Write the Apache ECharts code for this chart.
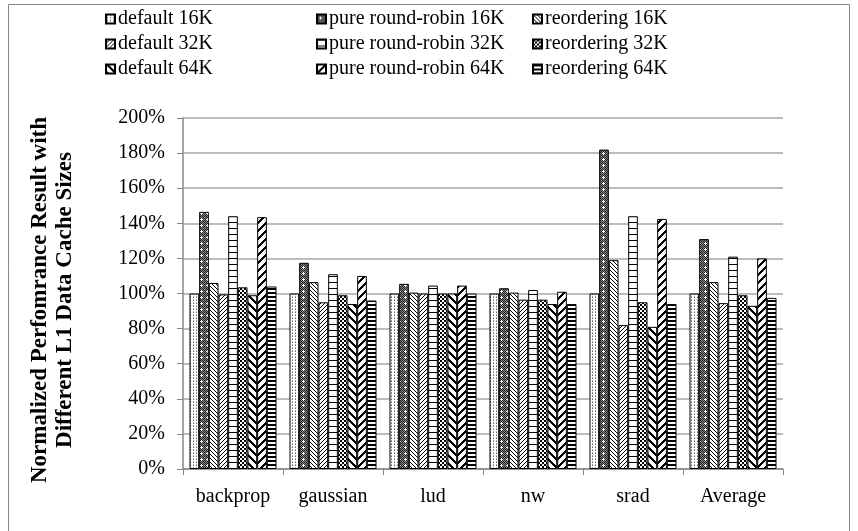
<!DOCTYPE html>
<html><head><meta charset="utf-8">
<script src="https://cdn.jsdelivr.net/npm/echarts@6/dist/echarts.min.js"></script>
<style>html,body{margin:0;padding:0;background:#fff}#c{width:858px;height:531px}</style>
</head><body><div id="c"></div>
<script>
const categories = ['backprop','gaussian','lud','nw','srad','Average'];
const seriesNames = ['default 16K','pure round-robin 16K','reordering 16K',
  'default 32K','pure round-robin 32K','reordering 32K',
  'default 64K','pure round-robin 64K','reordering 64K'];
const default16K = [100, 100, 100, 100, 100, 100];
const pureRR16K  = [146.5, 117.5, 105.5, 103, 182, 131];
const reorder16K = [106, 106.5, 100.5, 100.5, 119, 106.5];
const default32K = [99.5, 95, 100, 96.5, 82, 94.5];
const pureRR32K  = [144, 111, 104.5, 102, 144, 121];
const reorder32K = [103.5, 99, 100, 96.5, 95, 99];
const default64K = [99, 94, 100, 94, 81, 93];
const pureRR64K  = [143.5, 110, 104.5, 101, 142.5, 120];
const reorder64K = [104, 96, 100, 94, 94, 97.5];
const allValues = [default16K, pureRR16K, reorder16K, default32K, pureRR32K, reorder32K, default64K, pureRR64K, reorder64K];
const yTicks = {min: 0, max: 200, interval: 20};

function tile(w, h, draw) {
  const c = document.createElement('canvas');
  c.width = w; c.height = h;
  const g = c.getContext('2d');
  g.fillStyle = '#fff'; g.fillRect(0, 0, w, h);
  g.fillStyle = '#000';
  draw(g, w, h);
  return c;
}
const patterns = [
  tile(3, 3, g => { g.fillStyle = '#666'; g.fillRect(1, 0, 1, 1); g.fillStyle = '#aaa'; g.fillRect(1, 2, 1, 1); }),
  tile(6, 6, g => {
    for (let y = 0; y < 6; y++) for (let x = 0; x < 6; x++) {
      g.fillStyle = ((x + y) % 2 === 0) ? '#222' : '#888';
      g.fillRect(x, y, 1, 1);
    }
    g.fillStyle = '#fff';
    [[3,2],[2,3],[3,3],[4,3],[3,4]].forEach(p => g.fillRect(p[0], p[1], 1, 1));
  }),
  tile(4, 4, g => { for (let i = 0; i < 4; i++) g.fillRect(i, i, 1, 1); }),
  tile(4, 4, g => { for (let i = 0; i < 4; i++) g.fillRect(3 - i, i, 1, 1); }),
  tile(1, 6, g => { g.fillRect(0, 0, 1, 1); }),
  tile(4, 4, g => { g.fillRect(0, 0, 2, 2); g.fillRect(2, 2, 2, 2); }),
  tile(8, 8, g => { for (let y = 0; y < 8; y++) for (let k = 0; k < 3; k++) g.fillRect((y + k) % 8, y, 1, 1); }),
  tile(8, 8, g => { for (let y = 0; y < 8; y++) for (let k = 0; k < 3; k++) g.fillRect((7 - y + k + 8) % 8, y, 1, 1); }),
  tile(1, 4, g => { g.fillRect(0, 0, 1, 2); })
];

const font = 'Liberation Serif';
const series = seriesNames.map((n, i) => ({
  name: n, type: 'bar', data: allValues[i],
  barGap: '0%', barCategoryGap: '13%',
  itemStyle: { color: { image: patterns[i], repeat: 'repeat' }, borderColor: '#000', borderWidth: 1 },
  emphasis: { disabled: true }
}));

function legendCol(names, left) {
  return {
    data: names, left: left, top: 4, orient: 'vertical', itemGap: 5,
    itemWidth: 9, itemHeight: 9, icon: 'rect',
    textStyle: { fontFamily: font, fontSize: 20, color: '#000', padding: [0,0,0,-2] },
    selectedMode: false
  };
}

const chart = echarts.init(document.getElementById('c'), null, { renderer: 'canvas' });
chart.setOption({
  animation: false,
  backgroundColor: '#fff',
  legend: [
    legendCol([seriesNames[0], seriesNames[3], seriesNames[6]], 100),
    legendCol([seriesNames[1], seriesNames[4], seriesNames[7]], 311),
    legendCol([seriesNames[2], seriesNames[5], seriesNames[8]], 527)
  ],
  grid: { left: 183, right: 75, top: 118, bottom: 62 },
  xAxis: {
    type: 'category', data: categories,
    axisLine: { lineStyle: { color: '#888', width: 1.5 } },
    axisTick: { show: true, length: 6, lineStyle: { color: '#888' } },
    axisLabel: { fontFamily: font, fontSize: 20, color: '#000', margin: 18 }
  },
  yAxis: {
    type: 'value', min: yTicks.min, max: yTicks.max, interval: yTicks.interval,
    axisLine: { show: true, lineStyle: { color: '#888', width: 1.5 } },
    axisTick: { show: true, length: 6, lineStyle: { color: '#888' } },
    axisLabel: { fontFamily: font, fontSize: 20, color: '#000', margin: 18, formatter: v => v + '%' },
    splitLine: { lineStyle: { color: '#a6a6a6', width: 1.5 } }
  },
  graphic: [
    { type: 'rect', shape: { x: 8.5, y: 4.5, width: 841, height: 535 }, style: { fill: null, stroke: '#888', lineWidth: 1 }, silent: true },
    { type: 'text', x: 53, y: 300, rotation: Math.PI / 2,
      style: { text: 'Normalized Perfomrance Result with\nDifferent L1 Data Cache Sizes',
        fontFamily: font, fontSize: 23, fontWeight: 'bold', fill: '#000',
        align: 'center', verticalAlign: 'middle', lineHeight: 25 } }
  ],
  series: series
});
</script></body></html>
